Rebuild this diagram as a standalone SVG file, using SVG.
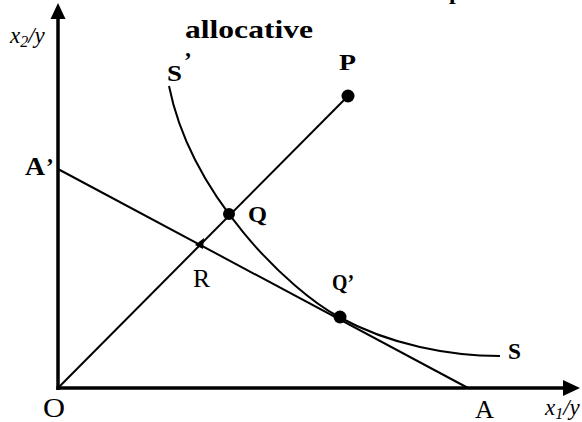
<svg xmlns="http://www.w3.org/2000/svg" width="582" height="422" viewBox="0 0 582 422">
<style>
.b{font-family:"Liberation Serif","Times New Roman",serif;font-weight:bold;fill:#000}
.r{font-family:"Liberation Serif","Times New Roman",serif;fill:#000}
.i{font-family:"Liberation Serif","Times New Roman",serif;font-style:italic;fill:#000}
.ax{stroke:#000;stroke-width:3.5;fill:none}
.ln{stroke:#000;stroke-width:2;fill:none}
.dot{fill:#000}
</style>
<rect width="582" height="422" fill="#fff"/>
<g id="connectors">
<line class="ax" x1="58" y1="390" x2="58" y2="16"/>
<polygon points="58,3 50.5,19 65.5,19" fill="#000"/>
<line class="ax" x1="56.3" y1="388" x2="566" y2="388"/>
<polygon points="580,388 563,380 563,396" fill="#000"/>
<line class="ln" x1="58" y1="388" x2="348" y2="96"/>
<line class="ln" x1="58" y1="169" x2="468" y2="388"/>
<path class="ln" d="M169,86 C191,196 289,290 339,317 C390,345 450,356 500,356"/>
</g>
<g id="title"><text class="b" x="185" y="38" font-size="25" textLength="128" lengthAdjust="spacingAndGlyphs">allocative</text><text class="b" x="449" y="-1" font-size="24">p</text></g>
<g id="node-P"><circle class="dot" cx="348" cy="96" r="6.5"/><text class="b" x="339" y="70" font-size="23" textLength="17" lengthAdjust="spacingAndGlyphs">P</text></g>
<g id="node-Sp"><text class="b" x="167" y="81" font-size="23" textLength="15" lengthAdjust="spacingAndGlyphs">S</text><text class="b" x="184" y="68" font-size="23">’</text></g>
<g id="node-Ap"><text class="b" x="25" y="175" font-size="25" textLength="20" lengthAdjust="spacingAndGlyphs">A</text><text class="b" x="46" y="174" font-size="23">’</text></g>
<g id="node-Q"><circle class="dot" cx="229" cy="214" r="6"/><text class="b" x="248" y="222" font-size="23" textLength="19" lengthAdjust="spacingAndGlyphs">Q</text></g>
<g id="node-R"><polygon class="dot" points="195,245 204,238 203,249"/><text class="r" x="193" y="287" font-size="26" textLength="17" lengthAdjust="spacingAndGlyphs">R</text></g>
<g id="node-Qp"><circle class="dot" cx="340" cy="317" r="6.5"/><text class="b" x="332" y="290" font-size="24" textLength="22" lengthAdjust="spacingAndGlyphs">Q’</text></g>
<g id="node-S"><text class="b" x="508" y="359" font-size="23" textLength="13" lengthAdjust="spacingAndGlyphs">S</text></g>
<g id="node-O"><text class="r" x="43" y="417" font-size="27" textLength="22" lengthAdjust="spacingAndGlyphs">O</text></g>
<g id="node-A"><text class="r" x="475" y="418" font-size="25" textLength="19" lengthAdjust="spacingAndGlyphs">A</text></g>
<g id="label-x2y"><text class="i" x="10" y="43" font-size="23">x<tspan font-size="16" dy="4">2</tspan><tspan dy="-4">/y</tspan></text></g>
<g id="label-x1y"><text class="i" x="545" y="415" font-size="23">x<tspan font-size="16" dy="4">1</tspan><tspan dy="-4">/y</tspan></text></g>
</svg>
